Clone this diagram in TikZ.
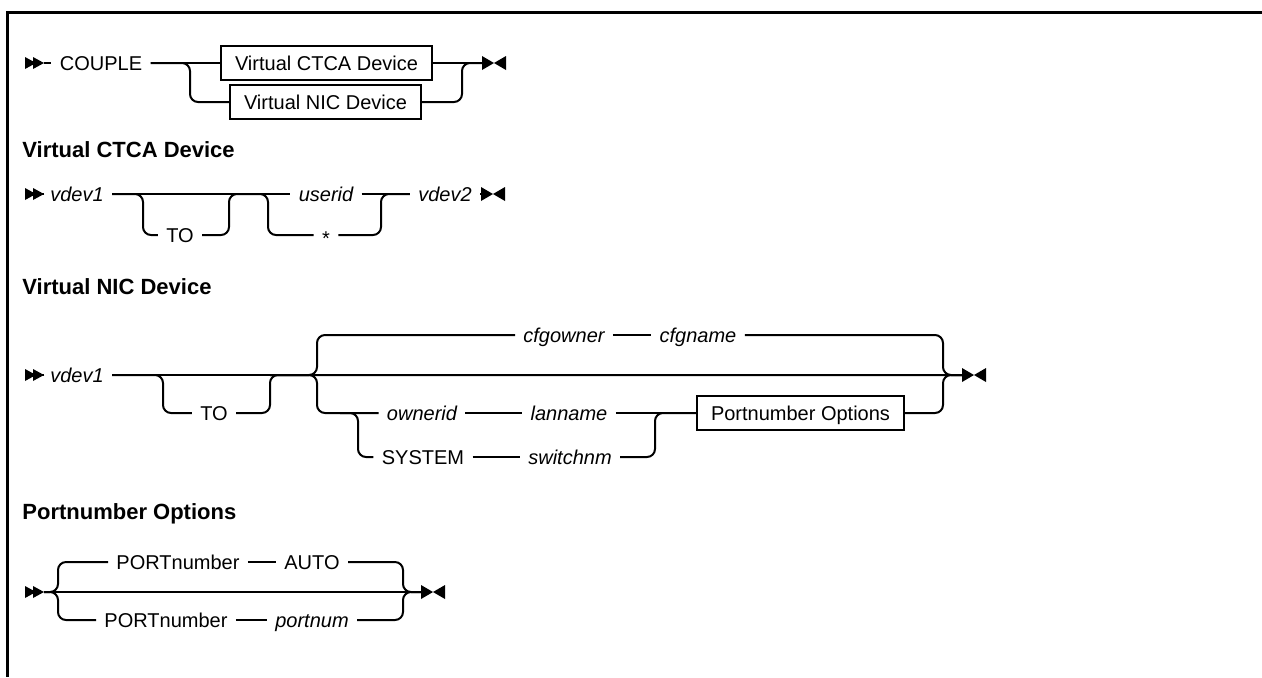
\documentclass[tikz,border=0pt]{standalone}
\usepackage{fontspec}
\setmainfont{Liberation Sans}
\begin{document}
\begin{tikzpicture}[x=0.5pt,y=-0.5pt,
  rail/.style={line width=1pt, rounded corners=4pt},
  t/.style={font=\fontsize{10}{12}\selectfont, inner xsep=4pt, inner ysep=0pt, text height=7.2pt, text depth=0pt},
  v/.style={t, font=\fontsize{10}{12}\selectfont\itshape},
  boxed/.style={t, draw, line width=1pt, inner xsep=7pt, inner ysep=4.8pt},
  head/.style={font=\fontsize{11}{13}\selectfont\bfseries, anchor=base west, inner sep=0pt},
  startmark/.pic={\fill (0,-6) -- (11,0) -- (0,6) -- cycle; \fill (8,-6) -- (19,0) -- (8,6) -- cycle;},
  endmark/.pic={\fill (0,-7) -- (12,0) -- (0,7) -- cycle; \fill (24,-7) -- (12,0) -- (24,7) -- cycle;}
]
\useasboundingbox (0,0) rectangle (1262,677);
% frame
\draw[line width=1.5pt] (1262,12) -- (7,12) -- (7,677);

% ---------- Row 1 ----------
\pic at (25,63) {startmark};
\coordinate (r1s) at (44,63);
\node[t] (couple) at (101,63) {COUPLE};
\node[boxed, anchor=west] (ctca) at (220,63) {Virtual CTCA Device};
\node[boxed, anchor=west] (nic) at (229,102) {Virtual NIC Device};
\coordinate (f1) at (190,102);
\coordinate (j1) at (462,63);
\coordinate (e1) at (482,63);
\draw[rail] (r1s) -- (couple.west);
\draw[rail] (couple.east) -- (ctca.west);
\draw[rail] (couple.east) -| (f1) -- (nic.west);
\draw[rail] (ctca.east) -- (e1);
\draw[rail] (nic.east) -| (j1) -- (e1);
\pic at (e1) {endmark};

% ---------- Heading 1 ----------
\node[head] (h1) at (22,157) {Virtual CTCA Device};

% ---------- Row 2 ----------
\pic at (25,194) {startmark};
\coordinate (r2s) at (44,194);
\node[v] (vdevA) at (77,194) {vdev1};
\node[t] (toA) at (180,235) {TO};
\node[v] (userid) at (326,194) {userid};
\node[t] (star) at (326,235) {\raisebox{-1.8pt}{*}};
\node[v] (vdevB) at (445,194) {vdev2};
\coordinate (f2a) at (143,235);
\coordinate (j2a) at (229,194);
\coordinate (f2b) at (268,194);
\coordinate (j2b) at (381,194);
\coordinate (e2) at (481,194);
\draw[rail] (r2s) -- (vdevA.west);
\draw[rail] (vdevA.east) -- (userid.west);
\draw[rail] (vdevA.east) -| (f2a) -- (toA.west);
\draw[rail] (toA.east) -| (j2a) -- (f2b) |- (star.west);
\draw[rail] (star.east) -| (j2b) -- (vdevB.west);
\draw[rail] (userid.east) -- (vdevB.west);
\draw[rail] (vdevB.east) -- (e2);
\pic at (e2) {endmark};

% ---------- Heading 2 ----------
\node[head] (h2) at (22,294) {Virtual NIC Device};

% ---------- Row 3 ----------
\pic at (25,375) {startmark};
\coordinate (r3s) at (44,375);
\node[v] (vdevC) at (77,375) {vdev1};
\node[t] (toB) at (214,413) {TO};
\node[v] (cfgowner) at (564,335) {cfgowner};
\node[v] (cfgname) at (698,335) {cfgname};
\node[v] (ownerid) at (422,413) {ownerid};
\node[v] (lanname) at (569,413) {lanname};
\node[t] (system) at (423,457) {SYSTEM};
\node[v] (switchnm) at (570,457) {switchnm};
\node[boxed, anchor=west] (pno) at (696,413) {Portnumber Options};
\coordinate (f3a) at (163,413);
\coordinate (j3a) at (270,375);
\coordinate (f3bt) at (317,335);
\coordinate (f3bb) at (317,413);
\coordinate (f3cl) at (340,413);
\coordinate (f3c) at (358,457);
\coordinate (j3c) at (655,413);
\coordinate (j3b) at (943,375);
\coordinate (e3) at (962,375);
\draw[rail] (r3s) -- (vdevC.west);
\draw[rail] (vdevC.east) -- (e3);
\draw[rail] (vdevC.east) -| (f3a) -- (toB.west);
\draw[rail] (toB.east) -| (j3a) -- (e3);
\draw[rail] (j3a) -| (f3bt) -- (cfgowner.west);
\draw[rail] (j3a) -| (f3bb) -- (ownerid.west);
\draw[rail] (cfgowner.east) -- (cfgname.west);
\draw[rail] (cfgname.east) -| (j3b) -- (e3);
\draw[rail] (ownerid.east) -- (lanname.west);
\draw[rail] (lanname.east) -- (pno.west);
\draw[rail] (f3cl) -| (f3c) -- (system.west);
\draw[rail] (system.east) -- (switchnm.west);
\draw[rail] (switchnm.east) -| (j3c) -- (pno.west);
\draw[rail] (pno.east) -| (j3b) -- (e3);
\pic at (e3) {endmark};

% ---------- Heading 3 ----------
\node[head] (h3) at (22,519) {Portnumber Options};

% ---------- Row 4 ----------
\pic at (25,592) {startmark};
\coordinate (r4s) at (44,592);
\node[t] (portA) at (178,562) {PORTnumber};
\node[t] (auto) at (312,562) {AUTO};
\node[t] (portB) at (166,620) {PORTnumber};
\node[v] (portnum) at (312,620) {portnum};
\coordinate (f4t) at (58,562);
\coordinate (f4b) at (58,620);
\coordinate (j4) at (403,592);
\coordinate (e4) at (421,592);
\draw[rail] (r4s) -- (e4);
\draw[rail] (r4s) -| (f4t) -- (portA.west);
\draw[rail] (r4s) -| (f4b) -- (portB.west);
\draw[rail] (portA.east) -- (auto.west);
\draw[rail] (auto.east) -| (j4) -- (e4);
\draw[rail] (portB.east) -- (portnum.west);
\draw[rail] (portnum.east) -| (j4) -- (e4);
\pic at (e4) {endmark};
\end{tikzpicture}
\end{document}
